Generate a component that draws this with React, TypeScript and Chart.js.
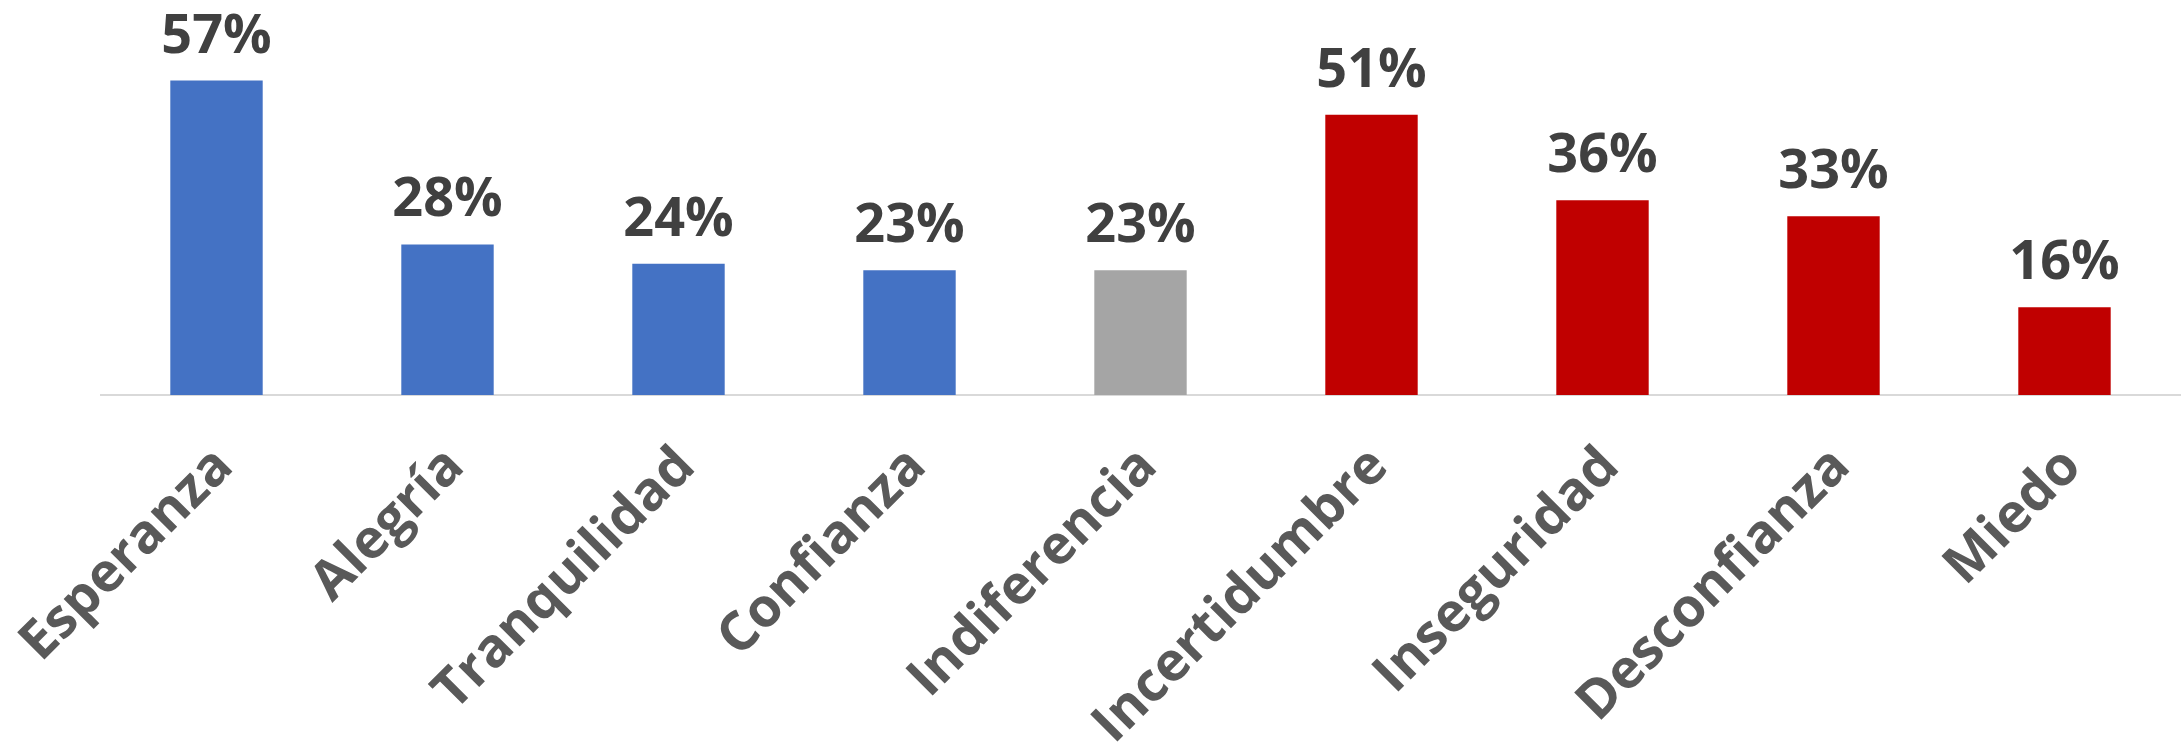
import React, { useEffect, useRef } from 'react';
import { Chart, registerables } from 'chart.js';

Chart.register(...registerables);

const categories = [
  'Esperanza',
  'Alegría',
  'Tranquilidad',
  'Confianza',
  'Indiferencia',
  'Incertidumbre',
  'Inseguridad',
  'Desconfianza',
  'Miedo',
];
// bar heights (percent)
const values = [57.0, 27.3, 23.8, 22.6, 22.6, 50.8, 35.3, 32.4, 15.9];
// data labels as printed on the picture
const valueLabels = ['57%', '28%', '24%', '23%', '23%', '51%', '36%', '33%', '16%'];
const barColors = [
  '#4472C4', '#4472C4', '#4472C4', '#4472C4',
  '#A5A5A5',
  '#C00000', '#C00000', '#C00000', '#C00000',
];

const FONT = '"Open Sans", "Noto Sans", sans-serif';

const valueLabelPlugin = {
  id: 'valueLabelPlugin',
  afterDatasetsDraw(chart: any) {
    const ctx = chart.ctx;
    const meta = chart.getDatasetMeta(0);
    ctx.save();
    ctx.font = `bold 54px ${FONT}`;
    ctx.fillStyle = '#404040';
    ctx.textAlign = 'center';
    ctx.textBaseline = 'alphabetic';
    meta.data.forEach((bar: any, i: number) => {
      ctx.fillText(valueLabels[i], bar.x, bar.y - 28);
    });
    ctx.restore();
  },
};

export default function App() {
  const canvasRef = useRef<HTMLCanvasElement | null>(null);

  useEffect(() => {
    document.body.style.margin = '0';
    const canvas = canvasRef.current;
    if (!canvas) return;
    const chart = new Chart(canvas, {
      type: 'bar',
      data: {
        labels: categories,
        datasets: [
          {
            data: values,
            backgroundColor: barColors,
            borderWidth: 0,
            categoryPercentage: 1,
            barPercentage: 0.4,
          },
        ],
      },
      options: {
        responsive: false,
        animation: false,
        devicePixelRatio: 1,
        layout: { padding: { left: 101, right: 3, top: 64, bottom: 0 } },
        plugins: {
          legend: { display: false },
          tooltip: { enabled: false },
          title: { display: false },
        },
        scales: {
          x: {
            grid: { display: false, drawTicks: false },
            border: { display: true, color: '#D9D9D9', width: 2 },
            ticks: {
              autoSkip: false,
              minRotation: 45,
              maxRotation: 45,
              padding: 40,
              labelOffset: 8,
              color: '#595959',
              font: { family: FONT, size: 54, weight: 'bold' },
            },
            afterFit(scale: any) {
              scale.height = 351;
              scale.paddingLeft = 0;
              scale.paddingRight = 0;
            },
          },
          y: {
            display: false,
            min: 0,
            max: 60,
          },
        },
      },
      plugins: [valueLabelPlugin],
    });
    return () => chart.destroy();
  }, []);

  return (
    <div style={{ width: 2183, height: 746 }}>
      <canvas ref={canvasRef} width={2183} height={746} style={{ display: 'block' }} />
    </div>
  );
}
